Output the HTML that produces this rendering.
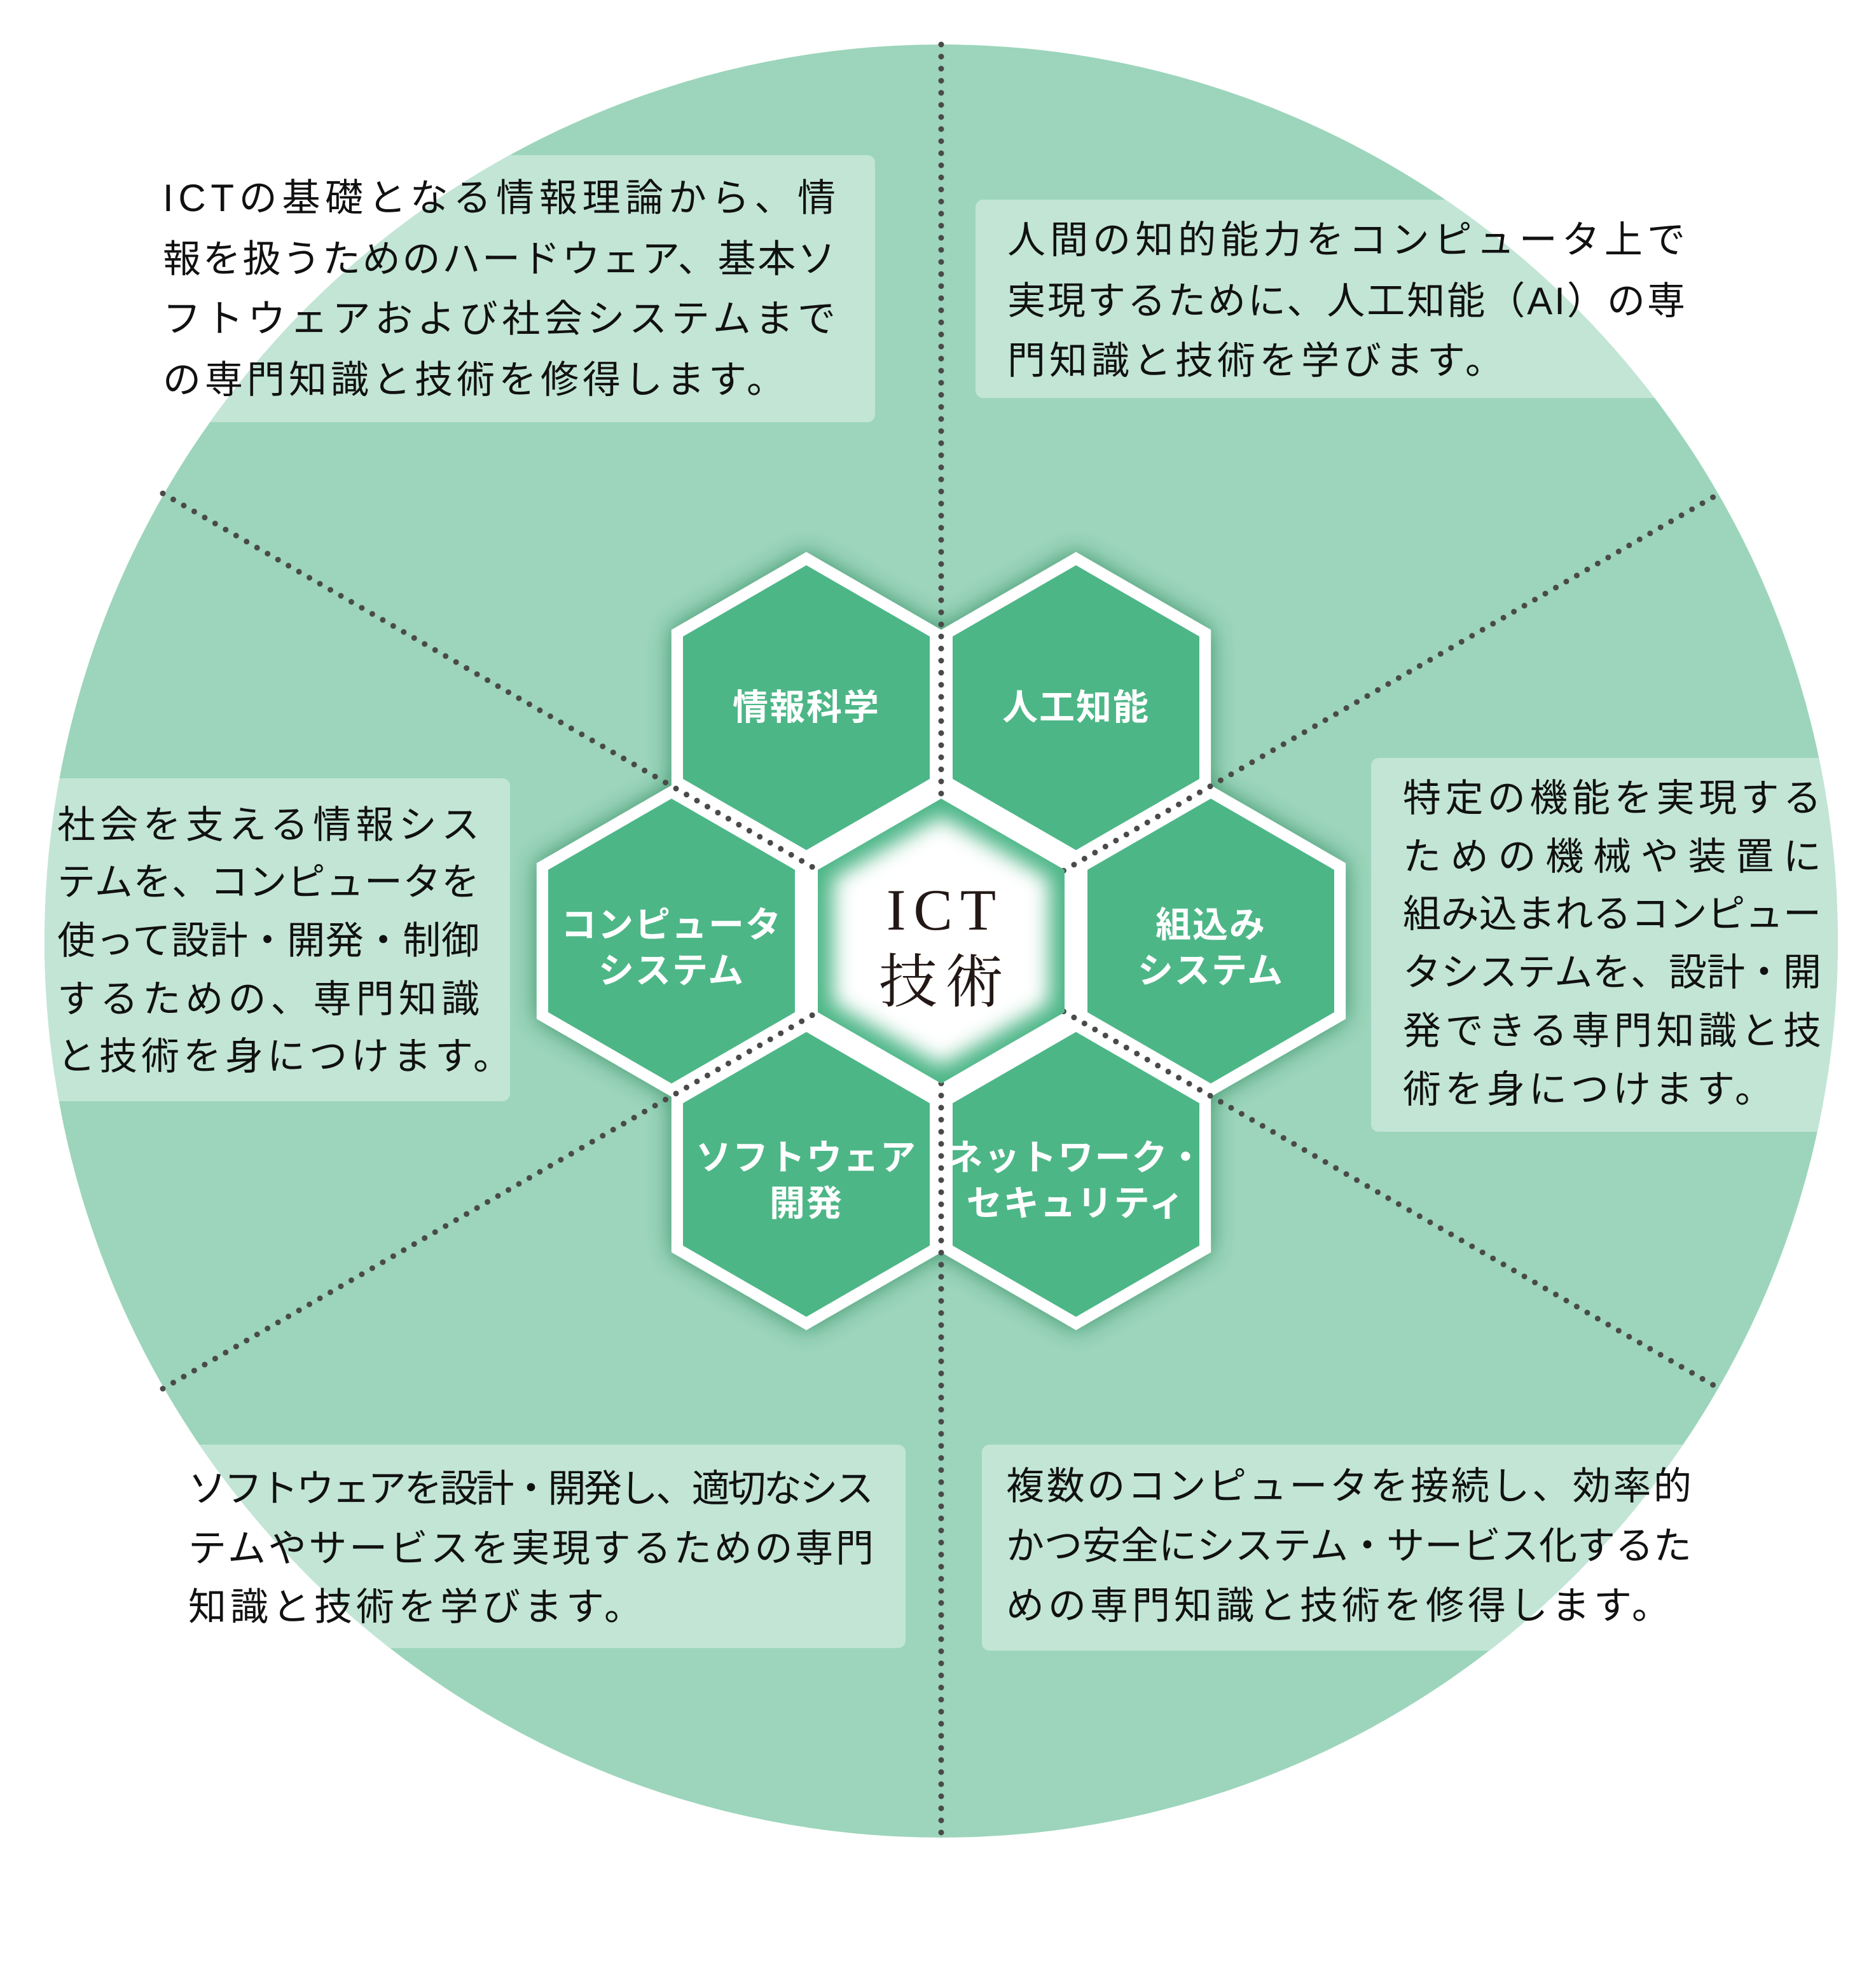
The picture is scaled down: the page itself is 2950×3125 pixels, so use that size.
<!DOCTYPE html>
<html><head><meta charset="utf-8"><style>
html,body{margin:0;padding:0;background:#fff;}
svg{display:block;}
.t{font-family:"Liberation Sans","Noto Sans CJK JP",sans-serif;font-size:60px;fill:#111;letter-spacing:6px;}
.h{font-family:"Liberation Sans","Noto Sans CJK JP",sans-serif;font-size:56px;font-weight:bold;fill:#fff;text-anchor:middle;letter-spacing:2px;}
.c{font-family:"Liberation Serif","Noto Serif CJK SC",serif;font-size:92px;fill:#231815;text-anchor:middle;letter-spacing:12px;}
</style></head><body>
<svg width="2950" height="3125" viewBox="0 0 2950 3125" xmlns="http://www.w3.org/2000/svg">
<defs>
<clipPath id="cc"><circle cx="1480" cy="1480" r="1410"/></clipPath>
<filter id="bl" x="-30%" y="-30%" width="160%" height="160%"><feGaussianBlur stdDeviation="18"/></filter>
<filter id="bl2" x="-30%" y="-30%" width="160%" height="160%"><feGaussianBlur stdDeviation="16"/></filter>
<polygon id="ho" points="0,-245 212.2,-122.5 212.2,122.5 0,245 -212.2,122.5 -212.2,-122.5"/>
<polygon id="hi" points="0,-224 194,-112 194,112 0,224 -194,112 -194,-112"/>
</defs>
<circle cx="1480" cy="1480" r="1410" fill="#9cd5bb"/>
<g clip-path="url(#cc)" fill="#c2e5d6">
<rect x="220" y="244" width="1156" height="420" rx="12"/>
<rect x="1534" y="314" width="1100" height="312" rx="12"/>
<rect x="40" y="1224" width="762" height="508" rx="12"/>
<rect x="2156" y="1192" width="760" height="588" rx="12"/>
<rect x="260" y="2272" width="1164" height="320" rx="12"/>
<rect x="1544" y="2272" width="1150" height="324" rx="12"/>
</g>
<g fill="#2f8a5f" filter="url(#bl)" opacity="0.9">
<use href="#ho" x="1268" y="1113"/><use href="#ho" x="1692" y="1113"/>
<use href="#ho" x="1056" y="1480"/><use href="#ho" x="1904" y="1480"/>
<use href="#ho" x="1268" y="1847"/><use href="#ho" x="1692" y="1847"/>
</g>
<g fill="#fff">
<use href="#ho" x="1268" y="1113"/><use href="#ho" x="1692" y="1113"/>
<use href="#ho" x="1056" y="1480"/><use href="#ho" x="1904" y="1480"/>
<use href="#ho" x="1268" y="1847"/><use href="#ho" x="1692" y="1847"/>
<use href="#ho" x="1480" y="1480"/>
</g>
<g fill="#4db687">
<use href="#hi" x="1268" y="1113"/><use href="#hi" x="1692" y="1113"/>
<use href="#hi" x="1056" y="1480"/><use href="#hi" x="1904" y="1480"/>
<use href="#hi" x="1268" y="1847"/><use href="#hi" x="1692" y="1847"/>
</g>
<g stroke="#4a4a4a" stroke-width="9" stroke-linecap="round" stroke-dasharray="0 19" fill="none">
<line x1="1480" y1="70" x2="1480" y2="2890"/>
<line x1="256" y1="776" x2="2704" y2="2184"/>
<line x1="256" y1="2184" x2="2704" y2="776"/>
</g>
<use href="#hi" x="1480" y="1480" fill="#4db687"/>
<polygon points="0,-196 170,-98 170,98 0,196 -170,98 -170,-98" transform="translate(1480 1480)" fill="#fff" filter="url(#bl2)"/>
<text class="c" x="1486" y="1462">ICT</text>
<text class="c" x="1486" y="1576">技術</text>
<text class="h" x="1268" y="1132">情報科学</text>
<text class="h" x="1692" y="1132">人工知能</text>
<text class="h" x="1056" y="1474">コンピュータ</text>
<text class="h" x="1056" y="1546">システム</text>
<text class="h" x="1904" y="1474">組込み</text>
<text class="h" x="1904" y="1546">システム</text>
<text class="h" x="1268" y="1840">ソフトウェア</text>
<text class="h" x="1268" y="1912">開発</text>
<text class="h" x="1692" y="1840">ネットワーク・</text>
<text class="h" x="1692" y="1912">セキュリティ</text>
<g class="t">
<text x="256" y="332" textLength="1064" lengthAdjust="spacing">ICTの基礎となる情報理論から、情</text>
<text x="256" y="428" textLength="1064" lengthAdjust="spacing">報を扱うためのハードウェア、基本ソ</text>
<text x="256" y="522" textLength="1064" lengthAdjust="spacing">フトウェアおよび社会システムまで</text>
<text x="256" y="618">の専門知識と技術を修得します。</text>
<text x="1584" y="398" textLength="1072" lengthAdjust="spacing">人間の知的能力をコンピュータ上で</text>
<text x="1584" y="494" textLength="1072" lengthAdjust="spacing">実現するために、人工知能（AI）の専</text>
<text x="1584" y="588">門知識と技術を学びます。</text>
<text x="90" y="1318" textLength="670" lengthAdjust="spacing">社会を支える情報シス</text>
<text x="90" y="1408" textLength="670" lengthAdjust="spacing">テムを、コンピュータを</text>
<text x="90" y="1500" textLength="670" lengthAdjust="spacing">使って設計・開発・制御</text>
<text x="90" y="1592" textLength="670" lengthAdjust="spacing">するための、専門知識</text>
<text x="90" y="1682">と技術を身につけます。</text>
<text x="2206" y="1276" textLength="664" lengthAdjust="spacing">特定の機能を実現する</text>
<text x="2206" y="1368" textLength="664" lengthAdjust="spacing">ための機械や装置に</text>
<text x="2206" y="1458" textLength="664" lengthAdjust="spacing">組み込まれるコンピュー</text>
<text x="2206" y="1550" textLength="664" lengthAdjust="spacing">タシステムを、設計・開</text>
<text x="2206" y="1642" textLength="664" lengthAdjust="spacing">発できる専門知識と技</text>
<text x="2206" y="1734">術を身につけます。</text>
<text x="296" y="2362" textLength="1084" lengthAdjust="spacing">ソフトウェアを設計・開発し、適切なシス</text>
<text x="296" y="2456" textLength="1084" lengthAdjust="spacing">テムやサービスを実現するための専門</text>
<text x="296" y="2548">知識と技術を学びます。</text>
<text x="1582" y="2358" textLength="1084" lengthAdjust="spacing">複数のコンピュータを接続し、効率的</text>
<text x="1582" y="2452" textLength="1084" lengthAdjust="spacing">かつ安全にシステム・サービス化するた</text>
<text x="1582" y="2546">めの専門知識と技術を修得します。</text>
</g>
</svg>
</body></html>
